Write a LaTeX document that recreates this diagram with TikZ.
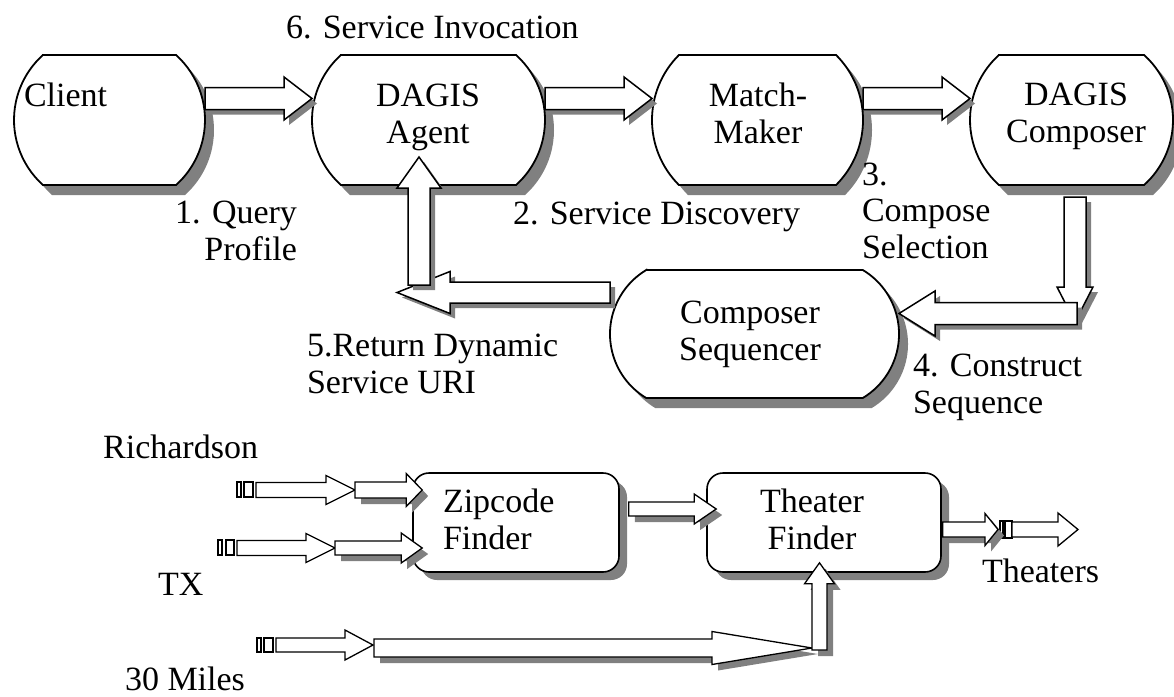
\documentclass[tikz,border=0pt]{standalone}
\usepackage{fontspec}
\setmainfont{Liberation Serif}
\usetikzlibrary{calc}
\definecolor{shgray}{HTML}{808080}

% Stadium outline fitted to the rectangle of node #2; #3 is the arc angle of each end
\newcommand\stadium[3][]{%
  \path[#1] let \p1=(#2.north west), \p2=(#2.south east),
      \n1={#3/2}, \n2={(\y1-\y2)/(2*sin(#3/2))}, \n3={\n2*(1-cos(#3/2))} in
    (\x1+\n3,\y1) -- (\x2-\n3,\y1)
    arc[start angle=\n1, end angle=-\n1, radius=\n2]
    -- (\x1+\n3,\y2)
    arc[start angle=180+\n1, end angle=180-\n1, radius=\n2] -- cycle;}

% Horizontal block arrow: start, tip, shaft half width, head half width, head length
\newcommand\hblock[6][]{%
  \path[#1] let \p1=(#2), \p2=(#3), \n1={\x2-sign(\x2-\x1)*#6} in
    (\x1,\y1-#4pt) -- (\n1,\y1-#4pt) -- (\n1,\y1-#5pt) -- (\x2,\y1)
    -- (\n1,\y1+#5pt) -- (\n1,\y1+#4pt) -- (\x1,\y1+#4pt) -- cycle;}

% Vertical block arrow, same parameters
\newcommand\vblock[6][]{%
  \path[#1] let \p1=(#2), \p2=(#3), \n1={\y2-sign(\y2-\y1)*#6} in
    (\x1-#4pt,\y1) -- (\x1-#4pt,\n1) -- (\x1-#5pt,\n1) -- (\x1,\y2)
    -- (\x1+#5pt,\n1) -- (\x1+#4pt,\n1) -- (\x1+#4pt,\y1) -- cycle;}

\tikzset{
  slot/.style={shape=rectangle, inner sep=0pt, outer sep=0pt},
  stadbox/.style={draw=black, fill=white, line width=1.8pt,
    preaction={fill=shgray, transform canvas={xshift=9pt, yshift=-10pt}}},
  bigarrow/.style={draw=black, fill=white, line width=1.5pt,
    preaction={fill=shgray, transform canvas={xshift=5pt, yshift=-5pt}}},
  smallarrow/.style={draw=black, fill=white, line width=1.3pt,
    preaction={fill=shgray, transform canvas={xshift=6pt, yshift=-6pt}}},
  feedarrow/.style={draw=black, fill=white, line width=1.3pt},
  stripe/.style={draw=black, fill=white, line width=1.1pt},
  rbox/.style={shape=rectangle, draw=black, fill=white, line width=1.6pt,
    rounded corners=16pt, inner sep=0pt,
    preaction={fill=shgray, transform canvas={xshift=8pt, yshift=-8pt}}},
  lbl/.style={inner sep=0pt, outer sep=0pt, font=\fontsize{34}{36.5}\selectfont},
}

\begin{document}
\begin{tikzpicture}[x=1pt,y=1pt]
\useasboundingbox (0,0) rectangle (1174,-696);

% ---------- service architecture ----------
\node[slot, minimum width=191pt, minimum height=130pt] (client)    at (109.5,-120) {};
\node[slot, minimum width=233pt, minimum height=130pt] (agent)     at (428.5,-120) {};
\node[slot, minimum width=211pt, minimum height=130pt] (matcher)   at (757.5,-120) {};
\node[slot, minimum width=203pt, minimum height=130pt] (composer)  at (1071.5,-120) {};
\node[slot, minimum width=289pt, minimum height=128pt] (sequencer) at (754.5,-334) {};

\stadium[stadbox]{client}{96}
\stadium[stadbox]{agent}{96}
\stadium[stadbox]{matcher}{90}
\stadium[stadbox]{composer}{96}
\stadium[stadbox]{sequencer}{118}

\coordinate (c-out)   at ([yshift=21.5pt]client.east);
\coordinate (a-in)    at ([yshift=21.5pt]agent.west);
\coordinate (a-out)   at ([yshift=21.5pt]agent.east);
\coordinate (m-in)    at ([yshift=21.5pt]matcher.west);
\coordinate (m-out)   at ([yshift=21.5pt]matcher.east);
\coordinate (k-in)    at ([yshift=21.5pt]composer.west);
\coordinate (k-out)   at ([shift={(3.5pt,-12pt)}]composer.south);
\coordinate (bend4)   at (1077,-313.5);
\coordinate (k-down)  at (1077,-322);
\coordinate (s-in)    at ([yshift=20.5pt]sequencer.east);
\coordinate (s-out)   at ([yshift=41.5pt]sequencer.west);
\coordinate (ret)     at (397,-292.5);
\coordinate (bend5)   at (419,-285);
\coordinate (a-up)    at ([shift={(-9.5pt,28pt)}]agent.south);

\hblock[bigarrow]{c-out}{a-in}{11}{21.5}{28}
\hblock[bigarrow]{a-out}{m-in}{11}{21.5}{28}
\hblock[bigarrow]{m-out}{k-in}{11}{21.5}{28}
\vblock[bigarrow]{k-out}{k-down}{11}{18}{35}
\hblock[bigarrow]{bend4}{s-in}{11}{22.5}{36}
\hblock[bigarrow]{s-out}{ret}{10.5}{21}{53}
\vblock[bigarrow]{bend5}{a-up}{11}{22}{31}

% ---------- example composition ----------
\node[rbox, minimum width=206pt, minimum height=99pt] (zip)     at (516,-522.5) {};
\node[rbox, minimum width=234pt, minimum height=99pt] (theater) at (824,-522.5) {};

\coordinate (rich)    at (256,-490);
\coordinate (rich-j)  at (355,-490);
\coordinate (z-in1)   at ([shift={(10pt,32.5pt)}]zip.west);
\coordinate (tx)      at (237,-548);
\coordinate (tx-j)    at (335,-548);
\coordinate (z-in2)   at ([shift={(10pt,-25.5pt)}]zip.west);
\coordinate (z-out)   at ([shift={(9pt,13.5pt)}]zip.east);
\coordinate (t-in)    at ([shift={(10pt,13.5pt)}]theater.west);
\coordinate (t-out)   at ([shift={(1pt,-7pt)}]theater.east);
\coordinate (res-a)   at (998,-529.5);
\coordinate (res-b)   at (1012,-529.5);
\coordinate (res-c)   at (1078,-529.5);
\coordinate (miles)   at (276,-645);
\coordinate (miles-j) at (373,-645);
\coordinate (miles-k) at (374,-648);
\coordinate (meet)    at (812,-648);
\coordinate (feed)    at (819.5,-650);
\coordinate (t-up)    at ([shift={(-4.5pt,10pt)}]theater.south);

% input stubs
\path[stripe] (237,-482) rectangle (241,-497) (244,-482) rectangle (253,-497);
\path[stripe] (218,-540) rectangle (222,-555) (226,-540) rectangle (234,-555);
\path[stripe] (257,-638) rectangle (261,-652) (264,-638) rectangle (273,-652);
\path[stripe] (1000,-521) rectangle (1003,-538) (1005,-521) rectangle (1012,-538);

\hblock[feedarrow]{rich}{rich-j}{7.5}{14.5}{29}
\hblock[smallarrow]{rich-j}{z-in1}{8}{16.5}{16}
\hblock[feedarrow]{tx}{tx-j}{7.5}{14.5}{29}
\hblock[smallarrow]{tx-j}{z-in2}{7}{15}{21}
\hblock[smallarrow]{z-out}{t-in}{7}{15}{22}
\hblock[smallarrow]{t-out}{res-a}{7.5}{16}{13}
\hblock[feedarrow]{res-b}{res-c}{7.5}{16.5}{20}
\hblock[feedarrow]{miles}{miles-j}{7}{15}{28}
\hblock[smallarrow]{miles-k}{meet}{9}{16.5}{100}
\vblock[smallarrow]{feed}{t-up}{7.5}{15}{21}

% ---------- labels (multi-line nodes are anchored on their last line) ----------
\node[lbl, anchor=base west] (client-t) at (24,-106) {Client};
\node[lbl, anchor=base, align=center] (agent-t) at (428,-143) {DAGIS\\Agent};
\node[lbl, anchor=base, align=center] (matcher-t) at (758,-143) {Match-\\Maker};
\node[lbl, anchor=base, align=center] (composer-t) at (1076,-142) {DAGIS\\Composer};
\node[lbl, anchor=base, align=center] (sequencer-t) at (750,-360) {Composer\\Sequencer};
\node[lbl, anchor=base west, align=left] (zip-t) at (443,-549) {Zipcode\\Finder};
\node[lbl, anchor=base, align=center] (theater-t) at (812,-549) {Theater\\Finder};

\node[lbl, anchor=base west] (step6) at (286,-38) {6. Service Invocation};
\node[lbl, anchor=base east, align=right] (step1) at (297,-260) {1. Query\\Profile};
\node[lbl, anchor=base west] (step2) at (513,-224) {2. Service Discovery};
\node[lbl, anchor=base west, align=left] (step3) at (862,-258) {3.\\Compose\\Selection};
\node[lbl, anchor=base west, align=left] (step5) at (307,-393) {5.Return Dynamic\\Service URI};
\node[lbl, anchor=base west, align=left] (step4) at (913,-413) {4. Construct\\Sequence};

\node[lbl, anchor=base east] (in-city)   at (258,-458) {Richardson};
\node[lbl, anchor=base west] (in-state)  at (158,-595) {TX};
\node[lbl, anchor=base west] (in-radius) at (125,-690) {30 Miles};
\node[lbl, anchor=base west] (result)    at (982,-582) {Theaters};
\end{tikzpicture}
\end{document}
